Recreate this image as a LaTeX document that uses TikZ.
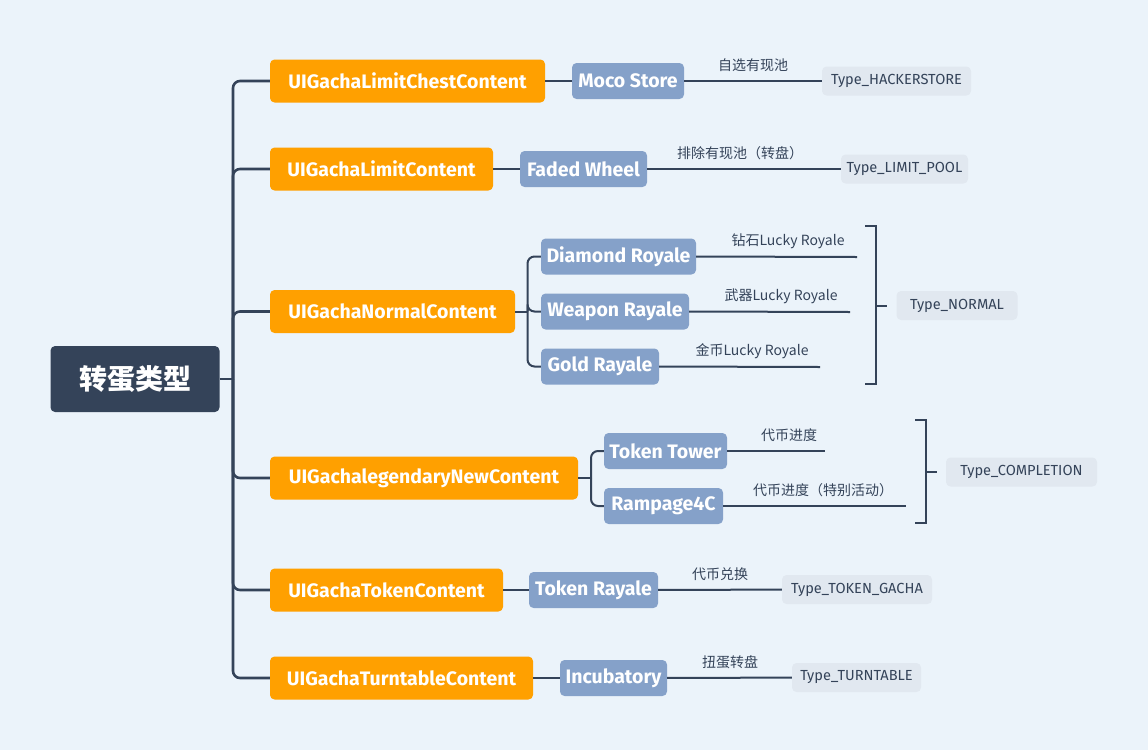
\documentclass[tikz,border=0pt]{standalone}
\usepackage{fontspec}
\setmainfont{Fira Sans}
\newfontfamily\cjk{Noto Sans CJK SC}
\usepackage{xcolor}
\usetikzlibrary{positioning}
\definecolor{pagebg}{RGB}{235,243,250}
\definecolor{navy}{RGB}{52,67,89}
\definecolor{gachaorange}{RGB}{255,160,0}
\definecolor{steel}{RGB}{133,161,201}
\definecolor{typegray}{RGB}{225,232,240}
\tikzset{
    rootbox/.style={fill=navy,text=white,rounded corners=1.6mm,inner sep=0,
        minimum width=169,minimum height=66,font=\cjk\bfseries\fontsize{28}{32}\selectfont},
    contentbox/.style={fill=gachaorange,text=white,rounded corners=1.6mm,inner sep=0,
        minimum height=43,font=\bfseries\fontsize{19.5}{23}\selectfont},
    gamebox/.style={fill=steel,text=white,rounded corners=1.6mm,inner sep=0,
        minimum height=36,font=\bfseries\fontsize{19.5}{23}\selectfont},
    typebox/.style={fill=typegray,text=navy,rounded corners=1.6mm,inner sep=0,
        minimum height=29,font=\fontsize{14.6}{18}\selectfont},
    note/.style={text=navy,inner sep=0,font=\cjk\fontsize{14}{17}\selectfont},
    branch/.style={draw=navy,line width=2.6,rounded corners=7},
    subbranch/.style={draw=navy,line width=2,rounded corners=7},
    link/.style={draw=navy,line width=2},
}
% one category: name, centre, width, text
\newcommand{\content}[4] {
    \node[contentbox,minimum width=#3] (#1) at (#2) {#4};
}
\newcommand{\game}[4] {
    \node[gamebox,minimum width=#3] (#1) at (#2) {#4};
}
\newcommand{\gachatype}[4] {
    \node[typebox,minimum width=#3] (#1) at (#2) {#4};
}
\begin{document}
\begin{tikzpicture}[x=1pt,y=-1pt]
    \fill[pagebg] (0,0) rectangle (1148,750);
    \useasboundingbox (0,0) rectangle (1148,750);

    \node[rootbox] (root) at (135,379) {转蛋类型};
    \coordinate (hub) at (233,379);

    % categories
    \content{chest}{407.5,81}{275}{UIGachaLimitChestContent}
    \content{limit}{381.5,169}{223}{UIGachaLimitContent}
    \content{normal}{392.5,311.5}{245}{UIGachaNormalContent}
    \content{legend}{424,478}{308}{UIGachalegendaryNewContent}
    \content{token}{386.5,590}{233}{UIGachaTokenContent}
    \content{turn}{401.5,678}{263}{UIGachaTurntableContent}

    \draw[link] (root.east) -- (hub);
    \foreach \c in {chest,limit,normal,legend,token,turn}
        \draw[branch] (hub) |- (\c.west);

    % games
    \game{moco}{628,81}{112}{Moco Store}
    \game{faded}{583.5,169}{127}{Faded Wheel}
    \game{diamond}{618.5,256.5}{155}{Diamond Royale}
    \game{weapon}{615,311.5}{148}{Weapon Rayale}
    \game{gold}{600,366.5}{118}{Gold Rayale}
    \game{tower}{665.5,451}{123}{Token Tower}
    \game{rampage}{663.5,506}{119}{Rampage4C}
    \game{tokenroy}{593.5,590}{129}{Token Rayale}
    \game{incub}{613.5,678}{107}{Incubatory}

    \draw[link] (chest) -- (moco);
    \draw[link] (limit) -- (faded);
    \draw[link] (token) -- (tokenroy);
    \draw[link] (turn) -- (incub);

    \coordinate (nhub) at (527.5,311.5);
    \draw[link] (normal.east) -- (nhub);
    \foreach \g in {diamond,weapon,gold}
        \draw[subbranch] (nhub) |- (\g.west);

    \coordinate (lhub) at (591,478);
    \draw[link] (legend.east) -- (lhub);
    \foreach \g in {tower,rampage}
        \draw[subbranch] (lhub) |- (\g.west);

    % types
    \gachatype{hacker}{896.5,81}{149}{Type\_HACKERSTORE}
    \gachatype{limitpool}{904.5,169}{127}{Type\_LIMIT\_POOL}
    \gachatype{normaltype}{957,305.5}{121}{Type\_NORMAL}
    \gachatype{completion}{1021.5,472}{151}{Type\_COMPLETION}
    \gachatype{tokengacha}{857,589.5}{150}{Type\_TOKEN\_GACHA}
    \gachatype{turntype}{856.5,677.5}{129}{Type\_TURNTABLE}

    \draw[link] (moco) -- (hacker);
    \draw[link] (faded) -- (limitpool);
    \draw[link] (tokenroy) -- (tokengacha);
    \draw[link] (incub) -- (turntype);

    % open ends and brackets
    \coordinate (dEnd) at (857,257);
    \coordinate (wEnd) at (850,312);
    \coordinate (gEnd) at (820,367);
    \coordinate (tEnd) at (825,451);
    \coordinate (rEnd) at (906,506);
    \draw[link] (diamond.east) -- (dEnd);
    \draw[link] (weapon.east) -- (wEnd);
    \draw[link] (gold.east) -- (gEnd);
    \draw[link] (tower.east) -- (tEnd);
    \draw[link] (rampage.east) -- (rEnd);

    \coordinate (nTop) at (865,226);
    \coordinate (nBot) at (865,384);
    \coordinate (nTip) at (887,305.5);
    \draw[link] (nTop) -- ++(11,0) -- ++(0,158) -- (nBot);
    \draw[link] (876,305.5) -- (nTip);

    \coordinate (cTop) at (915,420);
    \coordinate (cBot) at (915,523);
    \coordinate (cTip) at (937,472);
    \draw[link] (cTop) -- ++(11,0) -- ++(0,103) -- (cBot);
    \draw[link] (926,472) -- (cTip);

    % labels
    \node[note] (mocoNote) at (753,65) {自选有现池};
    \node[note] (fadedNote) at (740,153) {排除有现池（转盘）};
    \node[note] (diamondNote) at (788,241) {钻石Lucky Royale};
    \node[note] (weaponNote) at (781,296) {武器Lucky Royale};
    \node[note] (goldNote) at (752,351) {金币Lucky Royale};
    \node[note] (towerNote) at (789,435) {代币进度};
    \node[note] (rampageNote) at (823,490) {代币进度（特别活动）};
    \node[note] (tokenNote) at (720,574) {代币兑换};
    \node[note] (turnNote) at (730,662) {扭蛋转盘};
\end{tikzpicture}
\end{document}
